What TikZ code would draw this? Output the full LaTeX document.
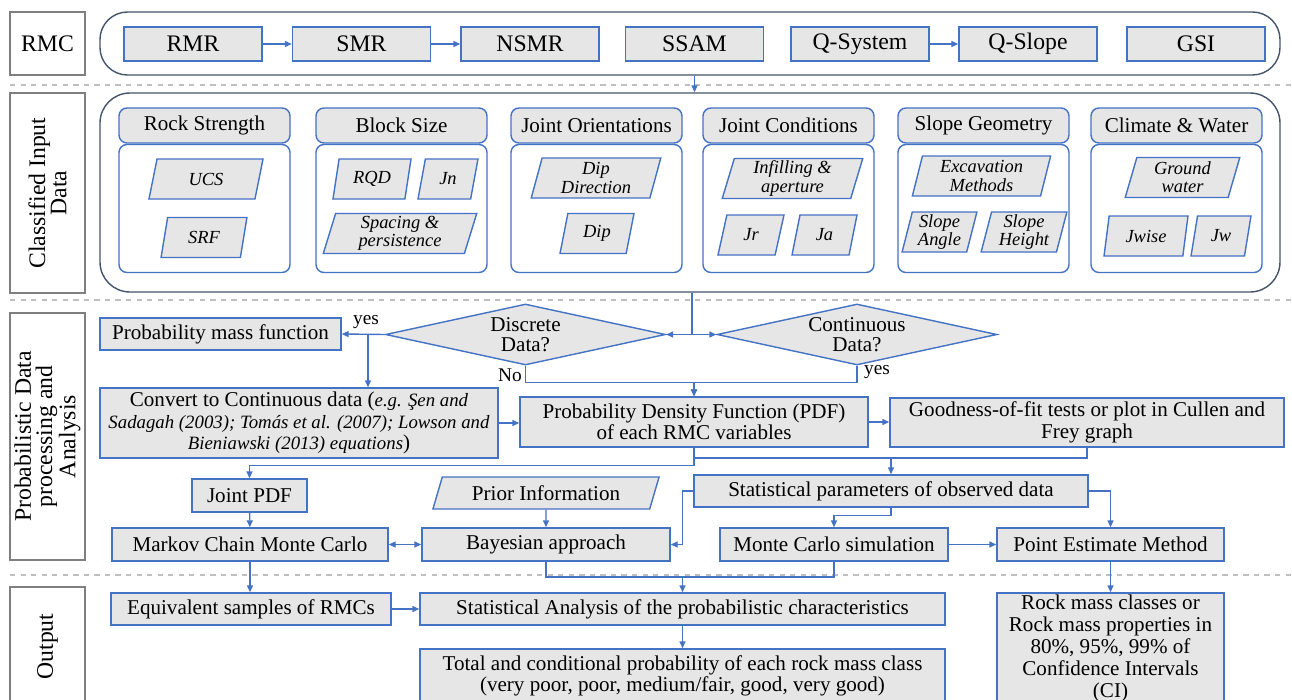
\documentclass[tikz,border=0pt]{standalone}
\usepackage{fontspec}
\setmainfont{Liberation Serif}
\usepackage{tikz}
\usetikzlibrary{shapes.geometric,arrows.meta,positioning}
\definecolor{BoxBlue}{RGB}{68,114,196}
\definecolor{BoxGray}{RGB}{231,230,230}
\definecolor{FrameSlate}{RGB}{68,84,106}
\definecolor{LabelGray}{RGB}{127,127,127}
\definecolor{DashGray}{RGB}{191,191,191}
\def\px{0.02cm}
\newcommand{\citeit}[1]{{\fontsize{10.7}{12.2}\selectfont\itshape #1}}
\tikzset{
  rowlabel/.style={draw=LabelGray, line width=0.8pt, fill=white, inner sep=0pt, align=center,
    font=\fontsize{13.5}{12}\selectfont},
  rowframe/.style={draw=FrameSlate, line width=0.8pt, inner sep=0pt},
  rmcbox/.style={draw=BoxBlue, fill=BoxGray, line width=0.8pt, minimum width=138*\px, minimum height=34*\px,
    inner sep=0pt, font=\fontsize{13.5}{15}\selectfont},
  grouphead/.style={draw=BoxBlue, fill=BoxGray, line width=0.8pt, rounded corners=0.16cm, minimum width=171*\px,
    minimum height=35*\px, inner sep=0pt, font=\fontsize{12}{13}\selectfont},
  groupbody/.style={draw=BoxBlue, fill=white, line width=0.8pt, rounded corners=0.16cm, minimum width=171*\px,
    minimum height=128*\px, inner sep=0pt},
  param/.style={trapezium, trapezium left angle=77, trapezium right angle=103, trapezium stretches=true,
    draw=BoxBlue, fill=BoxGray, line width=0.8pt, inner sep=0pt, align=center, minimum height=40*\px,
    font=\fontsize{10.5}{10.4}\selectfont\itshape},
  flow/.style={draw=BoxBlue, fill=BoxGray, line width=0.8pt, inner sep=0pt, align=center,
    font=\fontsize{12}{12.2}\selectfont},
  decision/.style={diamond, aspect=4.6, draw=BoxBlue, fill=BoxGray, line width=0.8pt, inner sep=0pt, align=center,
    minimum width=280*\px, minimum height=61*\px, font=\fontsize{12}{11.4}\selectfont},
  arr/.style={-{Triangle[length=0.14cm, width=0.12cm]}, BoxBlue, line width=0.8pt},
  biarr/.style={{Triangle[length=0.14cm, width=0.12cm]}-{Triangle[length=0.14cm, width=0.12cm]}, BoxBlue, line width=0.8pt},
  link/.style={BoxBlue, line width=0.8pt},
  note/.style={font=\fontsize{11}{12}\selectfont, inner sep=1pt},
  sep/.style={DashGray, dashed, line width=0.6pt},
}

\begin{document}
\begin{tikzpicture}[x=\px, y=-\px]
  \useasboundingbox (0,0) rectangle (1292,700);
  \clip (0,0) rectangle (1292,700);
  % section separators
  \foreach \y in {85,300,575} \draw[sep] (10,\y) -- (1292,\y);
  % row labels on the left
  \node[rowlabel, minimum width=75*\px, minimum height=63*\px] (rmclabel) at (47.5,43.5) {RMC};
  \node[rowlabel, rotate=90, minimum width=200*\px, minimum height=75*\px] (inputlabel) at (47.5,193) {Classified Input\\Data};
  \node[rowlabel, rotate=90, minimum width=247*\px, minimum height=75*\px] (problabel) at (47.5,436.5) {Probabilistic Data\\processing and\\Analysis};
  \node[rowlabel, rotate=90, minimum width=119*\px, minimum height=75*\px] (outlabel) at (47.5,646.5) {Output};

  % RMC systems
  \node[rowframe, rounded corners=0.55cm, minimum width=1180*\px, minimum height=63*\px] (rmcframe) at (690,43.5) {};
  \foreach \n/\x/\t in {rmr/193/RMR, smr/361.5/SMR, nsmr/530/NSMR, ssam/694.5/SSAM, qsys/860/Q-System, qslope/1028/Q-Slope, gsi/1196/GSI}
    \node[rmcbox] (\n) at (\x,44) {\t};
  \draw[arr] (rmr) -- (smr);
  \draw[arr] (smr) -- (nsmr);
  \draw[arr] (qsys) -- (qslope);

  % classified input data
  \node[rowframe, rounded corners=0.6cm, minimum width=1180*\px, minimum height=199*\px] (inputframe) at (690,192.5) {};
  \draw[arr] (ssam.south |- rmcframe.south) -- (ssam.south |- inputframe.north);
  \foreach \n/\x/\t in {strength/204.5/Rock Strength, block/401.5/Block Size, orient/596.5/Joint Orientations,
      cond/788.5/Joint Conditions, geom/983.5/Slope Geometry, water/1176.5/Climate \& Water} {
    \node[groupbody] (\n-box) at (\x,208.5) {};
    \node[grouphead] (\n-head) at (\x,125.5) {\t};
  }
  \node[param, minimum width=114*\px] (ucs) at (206,179) {UCS};
  \node[param, minimum width=86*\px] (srf) at (204,237.5) {SRF};
  \node[param, minimum width=78*\px] (rqd) at (372,179) {RQD};
  \node[param, minimum width=60*\px] (jn) at (448,179) {Jn};
  \node[param, minimum width=154*\px] (spacing) at (400,233.5) {Spacing \&\\persistence};
  \node[param, minimum width=130*\px] (dipdir) at (596,178) {Dip\\Direction};
  \node[param, minimum width=74*\px] (dip) at (597,233.5) {Dip};
  \node[param, minimum width=141*\px] (infill) at (792.5,178.5) {Infilling \&\\aperture};
  \node[param, minimum width=66*\px] (jr) at (751,235) {Jr};
  \node[param, minimum width=65*\px] (ja) at (824.5,235) {Ja};
  \node[param, minimum width=139*\px] (excav) at (981.5,176) {Excavation\\Methods};
  \node[param, minimum width=75*\px] (sangle) at (939.5,232) {Slope\\Angle};
  \node[param, minimum width=86*\px] (sheight) at (1024,232) {Slope\\Height};
  \node[param, minimum width=115*\px] (ground) at (1182.5,177.5) {Ground\\water};
  \node[param, minimum width=84*\px] (jwise) at (1146,236) {Jwise};
  \node[param, minimum width=60*\px] (jw) at (1221,236) {Jw};

  % probabilistic processing
  \coordinate (fork) at (692,334.5);
  \node[flow, minimum width=241*\px, minimum height=32*\px] (pmf) at (220.5,334) {Probability mass function};
  \node[decision] (discrete) at (525.5,334.5) {Discrete\\Data?};
  \node[decision] (continuous) at (857,334.5) {Continuous\\Data?};
  \node[flow, minimum width=398*\px, minimum height=70*\px] (convert) at (299,423)
    {Convert to Continuous data (\citeit{e.g. Şen and}\\\citeit{Sadagah (2003); Tomás et al. (2007); Lowson and}\\\citeit{Bieniawski (2013) equations})};
  \node[flow, minimum width=348*\px, minimum height=50*\px] (pdf) at (694,422) {Probability Density Function (PDF)\\of each RMC variables};
  \node[flow, minimum width=394*\px, minimum height=49*\px] (goodness) at (1087,422.5) {Goodness-of-fit tests or plot in Cullen and\\Frey graph};
  \node[flow, minimum width=115*\px, minimum height=33*\px] (jointpdf) at (249.5,495.5) {Joint PDF};
  \node[param, trapezium left angle=66, trapezium right angle=114, minimum width=228*\px, minimum height=32*\px,
    font=\fontsize{12}{13}\selectfont] (prior) at (546,493) {Prior Information};
  \node[flow, minimum width=394*\px, minimum height=32*\px] (statpar) at (891,491) {Statistical parameters of observed data};
  \node[flow, minimum width=276*\px, minimum height=33*\px] (mcmc) at (250,544.5) {Markov Chain Monte Carlo};
  \node[flow, minimum width=248*\px, minimum height=33*\px] (bayes) at (546,544.5) {Bayesian approach};
  \node[flow, minimum width=228*\px, minimum height=33*\px] (mcsim) at (834,544.5) {Monte Carlo simulation};
  \node[flow, minimum width=227*\px, minimum height=33*\px] (pem) at (1110.5,544.5) {Point Estimate Method};

  % output
  \node[flow, minimum width=280*\px, minimum height=32*\px] (equiv) at (251,609) {Equivalent samples of RMCs};
  \node[flow, minimum width=525*\px, minimum height=32*\px] (statana) at (682.5,609) {Statistical Analysis of the probabilistic characteristics};
  \node[flow, minimum width=525*\px, minimum height=54*\px] (total) at (682.5,676) {Total and conditional probability of each rock mass class\\(very poor, poor, medium/fair, good, very good)};
  \node[flow, minimum width=227*\px, minimum height=110*\px, font=\fontsize{12}{12.5}\selectfont] (rmclass) at (1110.5,648)
    {Rock mass classes or\\Rock mass properties in\\80\%, 95\%, 99\% of\\Confidence Intervals\\(CI)};

  % connectors
  \draw[link] (inputframe.south -| fork) -- (fork);
  \draw[arr] (fork) -- (discrete.east);
  \draw[arr] (fork) -- (continuous.west);
  \draw[arr] (discrete.west) -- (pmf.east);
  \coordinate (pmfsplit) at (368,334.5);
  \draw[arr] (pmfsplit) -- (pmfsplit |- convert.north);
  \draw[arr] (discrete.south) -- ++(0,17) -| (pdf.north);
  \draw[arr] (continuous.south) -- ++(0,17) -| (pdf.north);
  \node[note] (yesleft) at (366,322) {yes};
  \node[note] (nolabel) at (510,375) {No};
  \node[note] (yesright) at (877,372) {yes};
  \draw[arr] (convert.east) -- (convert.east -| pdf.west);
  \draw[arr] (pdf.east) -- (pdf.east -| goodness.west);
  \draw[arr] (pdf.south) -- ++(0,18) -| (jointpdf.north);
  \coordinate (fitjoin) at (891,458);
  \draw[link] (goodness.south) |- (fitjoin) -- (pdf.south |- fitjoin);
  \draw[arr] (fitjoin) -- (statpar.north);
  \draw[arr] (jointpdf) -- (mcmc);
  \draw[arr] (prior) -- (bayes);
  \draw[biarr] (mcmc) -- (bayes);
  \draw[arr] (statpar.west) -- ++(-11,0) |- (bayes.east);
  \draw[arr] (statpar.south) -- ++(0,8) -| (mcsim.north);
  \draw[arr] (statpar.east) -| (pem.north);
  \draw[arr] (mcsim) -- (pem);
  \coordinate (outjoin) at (682.5,577);
  \draw[link] (bayes.south) |- (outjoin) -| (mcsim.south);
  \draw[arr] (outjoin) -- (statana.north);
  \draw[arr] (mcmc) -- (mcmc |- equiv.north);
  \draw[arr] (equiv) -- (statana);
  \draw[arr] (statana) -- (total);
  \draw[arr] (pem) -- (rmclass);
\end{tikzpicture}
\end{document}
